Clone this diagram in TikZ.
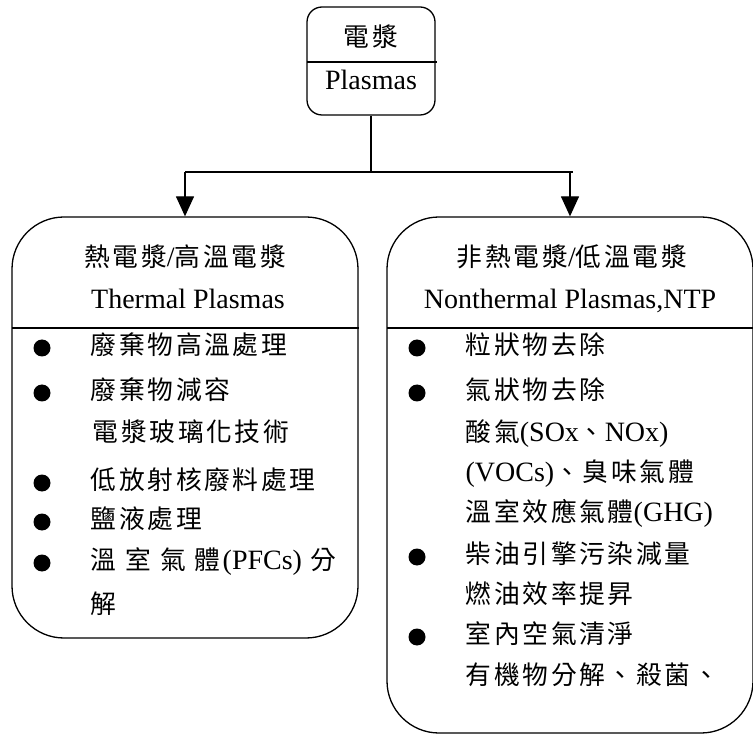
\documentclass[tikz,border=0pt]{standalone}
\usepackage{fontspec}
\setmainfont{Liberation Serif}
\newfontfamily\cjk[Scale=0.92,LetterSpace=10.5]{Noto Sans CJK TC}
\usetikzlibrary{arrows.meta}
\newcommand{\zh}[1]{{\cjk #1}}
\begin{document}
\begin{tikzpicture}[x=1pt,y=-1pt,line width=1.3pt,
  font=\fontsize{28pt}{34pt}\selectfont,
  box/.style={draw,inner sep=0pt},
  txt/.style={anchor=west,inner sep=0pt,text height=1.35em,text depth=0em},
  ctr/.style={anchor=center,inner sep=0pt,text height=1.35em,text depth=0em},
  dot/.style={circle,fill,minimum size=17pt,inner sep=0pt},
  tip/.style={-{Triangle[width=18pt,length=20pt]}}]
\useasboundingbox (0,0) rectangle (753,735);
% boxes
\node[box,rounded corners=15pt,minimum width=128pt,minimum height=108pt] (top) at (371,61) {};
\node[box,rounded corners=52pt,minimum width=346pt,minimum height=421pt] (lbox) at (185,427.5) {};
\node[box,rounded corners=52pt,minimum width=366pt,minimum height=516pt] (rbox) at (570,475) {};
% dividers
\draw (307,62) -- (437,62);
\draw (12,328) -- (359,328);
\draw (387,328) -- (753,328);
% connectors
\coordinate (j) at (top.south |- 0,172);
\coordinate (jl) at (lbox.north |- j);
\coordinate (jr) at (rbox.north |- j);
\coordinate (jre) at (573,172);
\draw (top.south) -- (j);
\draw (jl) -- (jre);
\draw[tip] (jl) -- (lbox.north);
\draw[tip] (jr) -- (rbox.north);
% top box text
\node[ctr] (t1) at (371,40) {\zh{電漿}};
\node[ctr] (t2) at (371,83) {Plasmas};
% left box
\node[ctr] (l1) at (185,260) {\zh{熱電漿}/\zh{高溫電漿}};
\node[ctr] (l2) at (188,302) {Thermal Plasmas};
\node[dot] (lb1) at (42,348) {};
\node[txt] (l3) at (90,348) {\zh{廢棄物高溫處理}};
\node[dot] (lb2) at (42,393) {};
\node[txt] (l4) at (90,393) {\zh{廢棄物減容}};
\node[txt] (l5) at (92,435) {\zh{電漿玻璃化技術}};
\node[dot] (lb3) at (42,483) {};
\node[txt] (l6) at (90,483) {\zh{低放射核廢料處理}};
\node[dot] (lb4) at (42,522) {};
\node[txt] (l7) at (90,522) {\zh{鹽液處理}};
\node[dot] (lb5) at (42,563) {};
\node[txt] (l8) at (90,563) {\zh{溫}\hspace{9pt}\zh{室}\hspace{9pt}\zh{氣}\hspace{9pt}\zh{體}\hspace{2pt}(PFCs)\hspace{8pt}\zh{分}};
\node[txt] (l9) at (90,607) {\zh{解}};
% right box
\node[ctr] (r1) at (572,260) {\zh{非熱電漿}/\zh{低溫電漿}};
\node[ctr] (r2) at (570,302) {Nonthermal Plasmas,NTP};
\node[dot] (rb1) at (417,348) {};
\node[txt] (r3) at (465,348) {\zh{粒狀物去除}};
\node[dot] (rb2) at (417,393) {};
\node[txt] (r4) at (465,393) {\zh{氣狀物去除}};
\node[txt] (r5) at (465,435) {\zh{酸氣}(SOx\zh{、}NOx)};
\node[txt] (r6) at (465,475) {(VOCs)\zh{、臭味氣體}};
\node[txt] (r7) at (465,515) {\zh{溫室效應氣體}(GHG)};
\node[dot] (rb3) at (417,557) {};
\node[txt] (r8) at (465,557) {\zh{柴油引擎污染減量}};
\node[txt] (r9) at (465,597) {\zh{燃油效率提昇}};
\node[dot] (rb4) at (417,637) {};
\node[txt] (r10) at (465,637) {\zh{室內空氣清淨}};
\node[txt] (r11) at (465,678) {\zh{有機物分解、殺菌、}};
\end{tikzpicture}
\end{document}
